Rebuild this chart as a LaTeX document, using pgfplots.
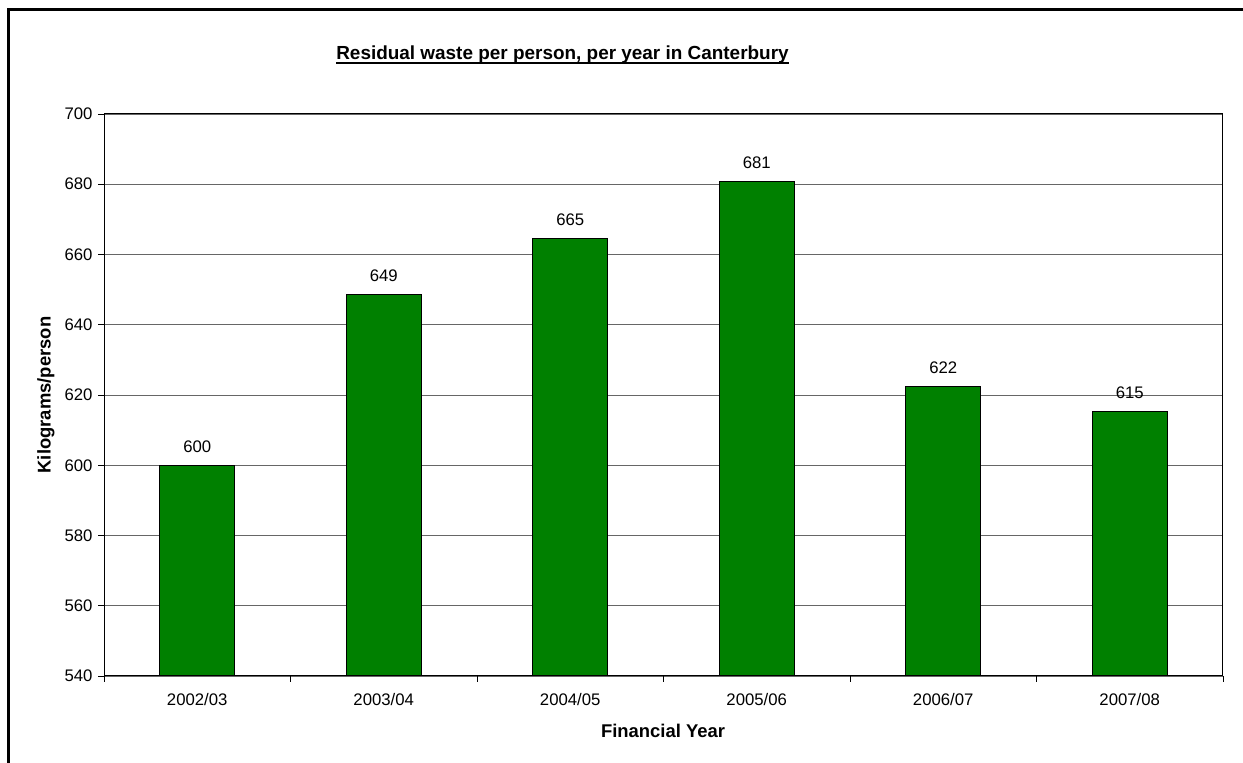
\documentclass[border=0pt]{standalone}
\usepackage{fontspec}
\setmainfont{Liberation Sans}
\usepackage{pgfplots}
\pgfplotsset{compat=1.18}
\begin{document}
\begin{tikzpicture}[x=1bp,y=1bp]
\path[use as bounding box] (0,0) rectangle (1243,763);
\draw[line width=3bp] (8,0) -- (8,753) -- (1243,753);
\begin{axis}[
  at={(104bp,87bp)}, anchor=south west,
  scale only axis, width=1119bp, height=562bp,
  xmin=-0.5, xmax=5.5, ymin=540, ymax=700,
  ytick={540,560,...,700},
  xtick={0,...,5},
  xticklabels={2002/03,2003/04,2004/05,2005/06,2006/07,2007/08},
  minor xtick={-0.5,0.5,...,5.5},
  xtick pos=bottom, ytick pos=left,
  major x tick style={draw=none},
  tick align=outside,
  tick style={black, line width=0.8bp},
  major tick length=6bp, minor tick length=6bp,
  ymajorgrids, grid style={black!60, line width=0.8bp},
  axis line style={black, line width=1bp},
  ticklabel style={font=\fontsize{16.8}{19}\selectfont},
  /pgf/number format/assume math mode=true,
  xticklabel style={yshift=-8bp},
  yticklabel style={xshift=-2bp},
  ybar, bar width=0.4,
  point meta=explicit symbolic,
  nodes near coords,
  nodes near coords style={font=\fontsize{16.8}{19}\selectfont, yshift=9bp, text=black},
  clip=false,
]
\addplot[fill={rgb,255:red,0;green,128;blue,0}, draw=black, line width=1bp]
  coordinates {(0,599.9)[600] (1,648.6)[649] (2,664.6)[665] (3,680.9)[681] (4,622.3)[622] (5,615.3)[615]};
\end{axis}
\node[font=\bfseries\fontsize{19}{22}\selectfont, anchor=base, inner sep=0pt] (t) at (562.5,703) {Residual waste per person, per year in Canterbury};
\draw[line width=2bp] ([yshift=-3.5bp]t.base west) -- ([yshift=-3.5bp]t.base east);
\node[font=\bfseries\fontsize{18.5}{21}\selectfont] at (663,32) {Financial Year};
\node[font=\bfseries\fontsize{18.5}{21}\selectfont, rotate=90] at (46,368) {Kilograms/person};
\end{tikzpicture}
\end{document}
